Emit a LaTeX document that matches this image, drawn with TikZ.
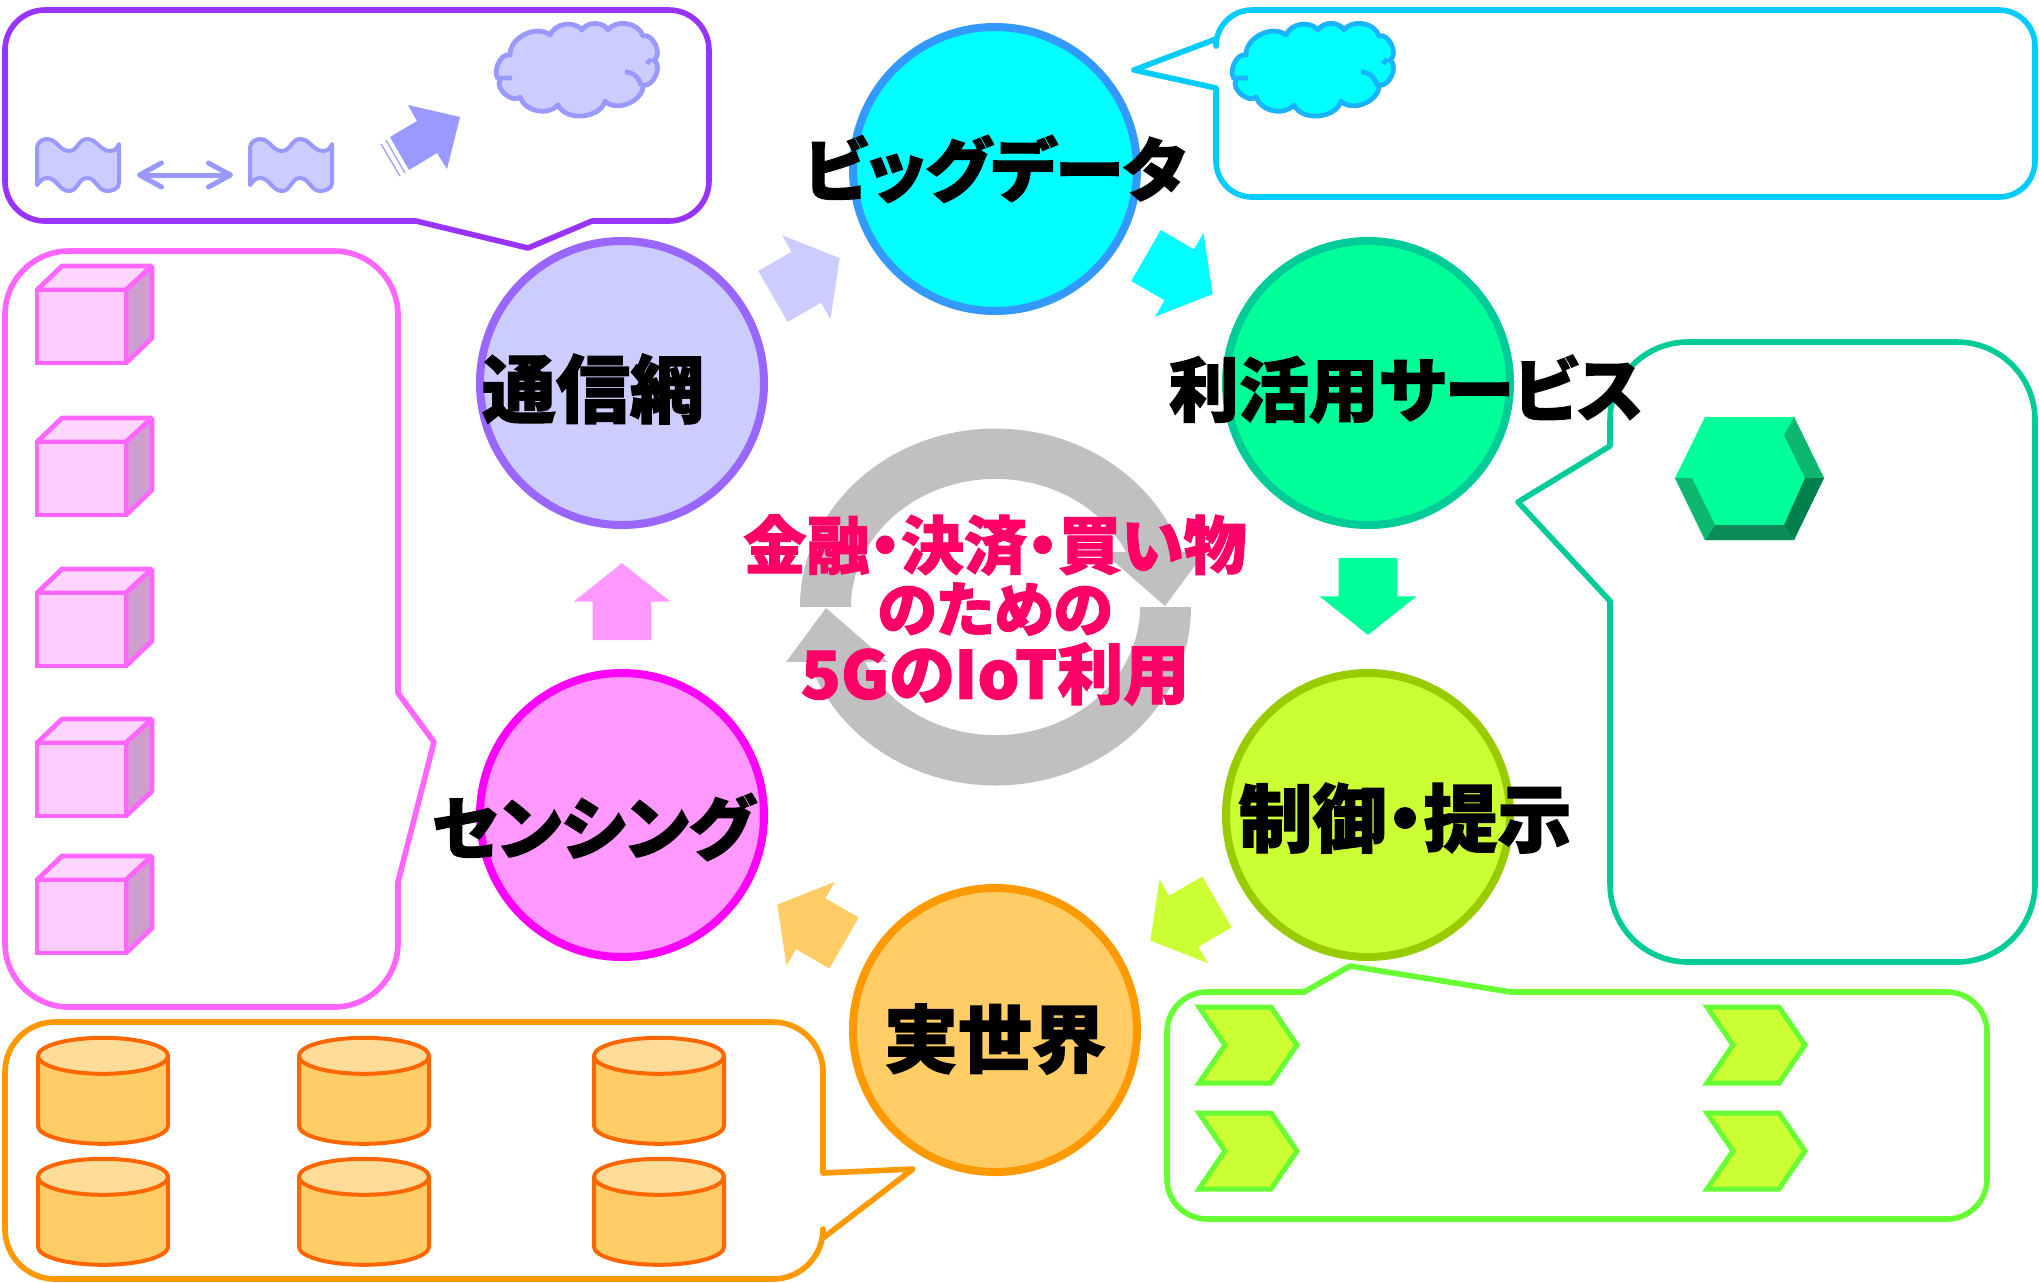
\documentclass[tikz,border=0pt]{standalone}
\usepackage{fontspec}
\setmainfont{Noto Sans CJK JP}[RawFeature=+palt,BoldFeatures={FakeBold=1.7}]
\usetikzlibrary{arrows.meta,calc,positioning,shapes.arrows,shapes.geometric}
\definecolor{netblue}{HTML}{CCCCFF}
\definecolor{netline}{HTML}{9966FF}
\definecolor{netbubble}{HTML}{9933FF}
\definecolor{wavelilac}{HTML}{9999FF}
\definecolor{datacyan}{HTML}{00FFFF}
\definecolor{dataline}{HTML}{3399FF}
\definecolor{databubble}{HTML}{00CCFF}
\definecolor{cloudline}{HTML}{1AB3FF}
\definecolor{servicegreen}{HTML}{00FF99}
\definecolor{serviceline}{HTML}{00CC99}
\definecolor{bevellight}{HTML}{0DB86E}
\definecolor{beveldark}{HTML}{00804D}
\definecolor{bevelbottom}{HTML}{0D8C59}
\definecolor{controllime}{HTML}{CCFF33}
\definecolor{controlring}{HTML}{99CC00}
\definecolor{controlline}{HTML}{66FF33}
\definecolor{realorange}{HTML}{FFCC66}
\definecolor{realline}{HTML}{FF9900}
\definecolor{barrelline}{HTML}{FF6600}
\definecolor{barreltop}{HTML}{FFDD99}
\definecolor{sensepink}{HTML}{FF99FF}
\definecolor{sensering}{HTML}{FF00FF}
\definecolor{senseline}{HTML}{FF66FF}
\definecolor{cubefront}{HTML}{FFCCFF}
\definecolor{cubetop}{HTML}{FFD6FF}
\definecolor{cubeside}{HTML}{CC9FCC}
\definecolor{loopgrey}{HTML}{C0C0C0}
\definecolor{titlered}{HTML}{FF0066}
\tikzset{
    %Define style for the ring
    hub/.style={
           circle,
           draw,
           line width=4pt,
           inner sep=0pt,
           outer sep=0pt,
           minimum size=142pt},
    hublabel/.style={
           font=\fontsize{37}{37}\selectfont\bfseries,
           inner sep=0pt},
    katalabel/.style={
           font=\fontsize{34.6}{36}\selectfont\bfseries,
           inner sep=0pt},
    %Define style for the arrows between hubs
    flowarrow/.style={
           single arrow,
           inner xsep=0pt,
           inner ysep=14.5pt,
           outer sep=0pt,
           minimum width=48pt,
           minimum height=38.5pt,
           single arrow head extend=9.5pt,
           single arrow tip angle=103},
    %Define style for the speech bubbles
    bubble/.style={
           line width=2.8pt,
           fill=white,
           line join=round},
    barrel/.style={
           cylinder,
           shape border rotate=90,
           aspect=1.5,
           cylinder uses custom fill,
           cylinder body fill=realorange,
           cylinder end fill=barreltop,
           draw=barrelline,
           line width=2pt,
           inner sep=6pt,
           minimum height=53pt,
           minimum width=65pt},
    cumulus/.pic={
           \draw[pic actions,line width=2.4pt,line join=round]
               (25,-45) to[bend left=65] (65,-25) to[bend left=60] (97,-20) to[bend left=60] (123,-20)
               to[bend left=65] (158,-26) to[bend left=85] (169,-50) to[bend left=80] (158,-75)
               to[bend left=70] (120,-91) to[bend left=70] (73,-95) to[bend left=60] (35,-87)
               to[bend left=80] (15,-70) to[bend left=85] cycle;
           \draw[pic actions,fill=none,line width=2.4pt] (140,-62) to[bend left=40] (156,-76)
               (27,-68) -- (15,-68) (162,-54) -- (166,-49);},
    cube/.pic={
           \draw[senseline,line width=2.4pt,line join=bevel,fill=cubetop] (0,0) -- (25,24) -- (115,24) -- (89,0) -- cycle;
           \draw[senseline,line width=2.4pt,line join=bevel,fill=cubeside] (89,0) -- (115,24) -- (115,-48) -- (89,-73) -- cycle;
           \draw[senseline,line width=2.4pt,fill=cubefront] (0,0) rectangle (89,-73);},
    chevron/.pic={
           \draw[controlline,fill=controllime,line width=2.5pt,miter limit=6] (0,38) -- (72,38) -- (98,0) -- (72,-38) -- (0,-38) -- (26,0) -- cycle;},
    wave/.pic={
           \draw[wavelilac,fill=netblue,line width=2pt,line join=round]
               (2,-48) -- (2,-11) to[out=90,in=180] (12,-2) to[out=0,in=180] (34,-14) to[out=0,in=180] (52,-2)
               to[out=0,in=180] (75,-14) to[out=0,in=-110] (84,-7) -- (84,-46) to[out=-90,in=0] (72,-54)
               to[out=180,in=0] (52,-41) to[out=180,in=0] (34,-54) to[out=180,in=0] (12,-41) to[out=180,in=50] cycle;},
}
\begin{document}
\begin{tikzpicture}[x=0.5pt,y=0.5pt,on grid]
\useasboundingbox (0,0) rectangle (2039,-1282);

% bubbles
\draw[bubble,draw=netbubble] (416,-221) -- (528,-248) -- (592,-221) [rounded corners=20pt] -- (709,-221) -- (709,-10) -- (5,-10) -- (5,-221) [sharp corners] -- cycle;
\draw[bubble,draw=databubble] (1216,-88) -- (1134,-70) -- (1216,-39) [rounded corners=18pt] -- (1216,-10) -- (2035,-10) -- (2035,-197) -- (1216,-197) [sharp corners] -- cycle;
\draw[bubble,draw=senseline] (398,-693) -- (434,-742) -- (398,-882) [rounded corners=32pt] -- (398,-1007) -- (5,-1007) -- (5,-251) -- (398,-251) [sharp corners] -- cycle;
\draw[bubble,draw=realline] (823,-1173) -- (913,-1169) -- (823,-1238) [rounded corners=25pt] -- (823,-1279) -- (5,-1279) -- (5,-1022) -- (823,-1022) [sharp corners] -- cycle;
\draw[bubble,draw=controlline] (1304,-992) -- (1350,-966) -- (1511,-992) [rounded corners=20pt] -- (1987,-992) -- (1987,-1219) -- (1167,-1219) -- (1167,-992) [sharp corners] -- cycle;
\draw[bubble,draw=serviceline] (1610,-601) -- (1518,-502) -- (1610,-446) [rounded corners=39pt] -- (1610,-342) -- (2035,-342) -- (2035,-962) -- (1610,-962) [sharp corners] -- cycle;

% grey loop
\fill[loopgrey] (800,-607) arc[start angle=180,end angle=17.9,x radius=195.5,y radius=178.5] -- (1205,-552) -- (1165,-606) -- (1103,-552) -- (1126,-552) arc[start angle=25.4,end angle=180,x radius=144.5,y radius=128] -- cycle;
\fill[loopgrey] (1191,-607) arc[start angle=0,end angle=-162.1,x radius=195.5,y radius=178.5] -- (786,-662) -- (826,-608) -- (888,-662) -- (865,-662) arc[start angle=205.4,end angle=360,x radius=144.5,y radius=128] -- cycle;

% hubs
\node[hub,draw=sensering,fill=sensepink] (sensing) at (622,-815) {};
\node[hub,draw=netline,fill=netblue,above=216pt of sensing] (network) {};
\node[hub,draw=dataline,fill=datacyan,above right=107pt and 186.5pt of network] (bigdata) {};
\node[hub,draw=serviceline,fill=servicegreen,below right=107pt and 186.5pt of bigdata] (service) {};
\node[hub,draw=controlring,fill=controllime,below=216pt of service] (control) {};
\node[hub,draw=realline,fill=realorange,below left=107.5pt and 186.5pt of control] (realworld) {};

% arrows between hubs
\node[flowarrow,fill=netblue,rotate=30] (netdata) at ($(network)!.467!(bigdata)$) {};
\node[flowarrow,fill=datacyan,rotate=-30] (dataservice) at ($(bigdata)!.467!(service)$) {};
\node[flowarrow,fill=servicegreen,rotate=-90] (servicecontrol) at ($(service)!.467!(control)$) {};
\node[flowarrow,fill=controllime,rotate=210] (controlreal) at ($(control)!.467!(realworld)$) {};
\node[flowarrow,fill=realorange,rotate=150] (realsensing) at ($(realworld)!.467!(sensing)$) {};
\node[flowarrow,fill=sensepink,rotate=90] (sensingnet) at ($(sensing)!.467!(network)$) {};

% hub labels
\node[hublabel,xshift=-14.5pt,yshift=-3pt] (networklabel) at (network) {通信網};
\node[katalabel] (bigdatalabel) at (bigdata) {ビッグデータ};
\node[katalabel,xshift=19pt,yshift=-3pt,font=\fontsize{35}{36}\selectfont\bfseries] (servicelabel) at (service) {利活用サービス};
\node[hublabel,xshift=18.5pt,yshift=-1.5pt] (controllabel) at (control) {制御・提示};
\node[hublabel,yshift=-4.5pt] (realworldlabel) at (realworld) {実世界};
\node[katalabel,xshift=-14.5pt,yshift=-6pt] (sensinglabel) at (sensing) {センシング};

% centre title
\node[font=\bfseries,text=titlered,align=center,inner sep=0pt] (title) at (995,-610) {\fontsize{31.5}{33}\selectfont 金融・決済・買い物\\[2.5pt]\fontsize{30}{33}\selectfont のための\\[2.5pt]\fontsize{33}{33}\selectfont 5GのIoT利用};

% purple bubble contents
\pic[draw=wavelilac,fill=netblue] at (485,-10) {cumulus};
\pic at (35,-137) {wave};
\pic at (248,-137) {wave};
\coordinate (swapa) at (137,-175);
\coordinate (swapb) at (233,-175);
\draw[wavelilac,line width=2.5pt,{Straight Barb[length=11pt,width=12pt,round]}-{Straight Barb[length=11pt,width=12pt,round]}] (swapa) -- (swapb);
\fill[wavelilac] (390,-137) -- (417,-121) -- (408,-105) -- (460,-117) -- (447,-169) -- (437,-153) -- (409,-170) -- cycle;
\draw[wavelilac,line width=.6pt] (386,-140) -- (405,-173) (381,-144) -- (400,-176);

% cyan bubble contents
\pic[draw=cloudline,fill=datacyan] at (1221,-10) {cumulus};

% green bubble contents
\fill[servicegreen] (1675,-478) -- (1705,-417) -- (1794,-417) -- (1824,-478) -- (1794,-540) -- (1705,-540) -- cycle;
\fill[bevellight] (1794,-417) -- (1824,-478) -- (1805,-478) -- (1784,-435) -- cycle;
\fill[beveldark] (1824,-478) -- (1794,-540) -- (1784,-525) -- (1805,-478) -- cycle;
\fill[bevelbottom] (1794,-540) -- (1705,-540) -- (1715,-525) -- (1784,-525) -- cycle;
\fill[bevellight] (1705,-540) -- (1675,-478) -- (1692,-478) -- (1715,-525) -- cycle;

% lime bubble contents
\foreach \px in {1199,1707}
    \foreach \py in {-1045,-1151}
        \pic at (\px,\py) {chevron};

% pink bubble contents
\foreach \py in {-290,-442,-593,-743,-880}
    \pic at (37,\py) {cube};

% orange bubble contents
\foreach \px in {103,364,659}
    \foreach \py in {-1106,-1227}
        \node[barrel] at (\px,\py) {};
\end{tikzpicture}
\end{document}
